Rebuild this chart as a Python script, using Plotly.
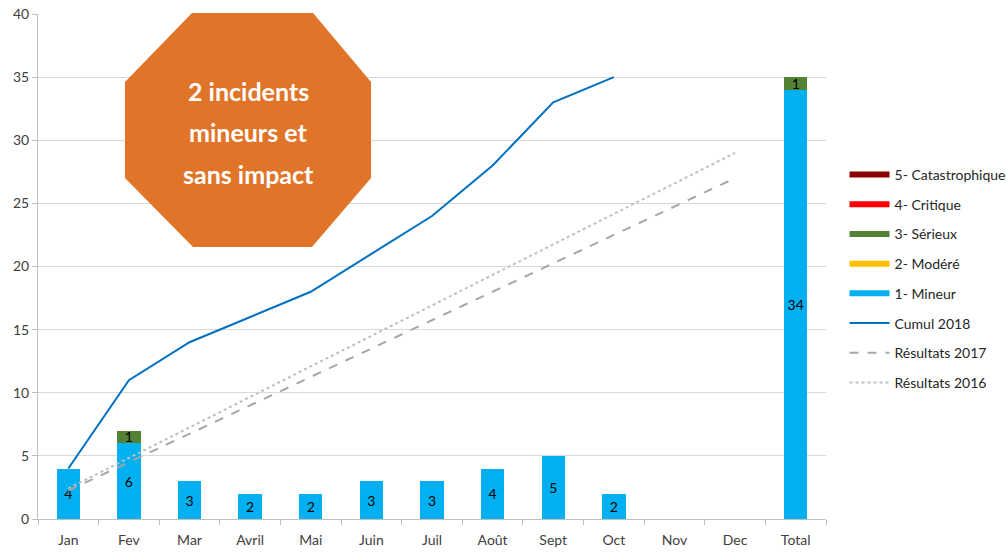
import plotly.graph_objects as go

categories = ["Jan", "Fev", "Mar", "Avril", "Mai", "Juin", "Juil", "Août", "Sept", "Oct", "Nov", "Dec", "Total"]
mineur = [4, 6, 3, 2, 2, 3, 3, 4, 5, 2, 0, 0, 34]
modere = [0] * 13
serieux = [0, 1, 0, 0, 0, 0, 0, 0, 0, 0, 0, 0, 1]
critique = [0] * 13
catastrophique = [0] * 13
months = categories[:12]
cumul_2018 = [4, 11, 14, 16, 18, 21, 24, 28, 33, 35]
res_2017 = [2.25, 4.5, 6.75, 9, 11.25, 13.5, 15.75, 18, 20.25, 22.5, 24.75, 27]
res_2016 = [2.42, 4.83, 7.25, 9.67, 12.08, 14.5, 16.92, 19.33, 21.75, 24.17, 26.58, 29]

FONT = "Lato"
C_CATA = "#8B0000"
C_CRIT = "#FF0000"
C_SER = "#548235"
C_MOD = "#FFC000"
C_MIN = "#00B0F0"
C_CUM = "#0070C0"
C_2017 = "#A6A6A6"
C_2016 = "#BFBFBF"

def lab(vals):
    return [str(v) if v else "" for v in vals]

fig = go.Figure()
bar_common = dict(width=0.385, textposition="inside", insidetextanchor="middle", textangle=0,
                  constraintext="none", textfont=dict(family=FONT, size=14, color="#000000"),
                  showlegend=False, hoverinfo="skip", marker_line_width=0)
fig.add_trace(go.Bar(x=categories, y=mineur, marker_color=C_MIN, text=lab(mineur), name="1- Mineur", **bar_common))
fig.add_trace(go.Bar(x=categories, y=modere, marker_color=C_MOD, text=lab(modere), name="2- Modéré", **bar_common))
fig.add_trace(go.Bar(x=categories, y=serieux, marker_color=C_SER, text=lab(serieux), name="3- Sérieux", **bar_common))
fig.add_trace(go.Bar(x=categories, y=critique, marker_color=C_CRIT, text=lab(critique), name="4- Critique", **bar_common))
fig.add_trace(go.Bar(x=categories, y=catastrophique, marker_color=C_CATA, text=lab(catastrophique), name="5- Catastrophique", **bar_common))

fig.add_trace(go.Scatter(x=months, y=res_2016, mode="lines", line=dict(color=C_2016, width=2, dash="dot"),
                         showlegend=False))
fig.add_trace(go.Scatter(x=months, y=res_2017, mode="lines", line=dict(color=C_2017, width=2, dash="dash"),
                         showlegend=False))
fig.add_trace(go.Scatter(x=months[:len(cumul_2018)], y=cumul_2018, mode="lines", line=dict(color=C_CUM, width=2),
                         showlegend=False))

# legend entries
legend_items = [
    ("5- Catastrophique", C_CATA, 6, "solid"),
    ("4- Critique", C_CRIT, 6, "solid"),
    ("3- Sérieux", C_SER, 6, "solid"),
    ("2- Modéré", C_MOD, 6, "solid"),
    ("1- Mineur", C_MIN, 6, "solid"),
    ("Cumul 2018", C_CUM, 2, "solid"),
    ("Résultats 2017", C_2017, 2, "dash"),
    ("Résultats 2016", C_2016, 2, "dot"),
]
for i, (nm, col, w, d) in enumerate(legend_items):
    fig.add_trace(go.Scatter(x=[None], y=[None], mode="lines", name=nm,
                             line=dict(color=col, width=w, dash=d), legendgroup=f"g{i}",
                             showlegend=True))

L, R, T, B = 38, 826, 14, 519
W, H = 1006, 553

def px(x, y):
    return (x - L) / (R - L), (B - y) / (B - T)

oct_pts = [(192, 13), (313, 13), (371, 82), (371, 178), (312, 247), (193, 247), (125, 178), (125, 82)]
path = "M " + " L ".join(f"{px(x, y)[0]:.4f},{px(x, y)[1]:.4f}" for x, y in oct_pts) + " Z"
fig.add_shape(type="path", path=path, xref="paper", yref="paper",
              fillcolor="#E07428", line=dict(width=0), layer="above")

for txt, yy in [("2 incidents", 91), ("mineurs et", 132), ("sans impact", 174)]:
    xp, yp = px(248, yy)
    fig.add_annotation(x=xp, y=yp, xref="paper", yref="paper", text=f"<b>{txt}</b>",
                       showarrow=False, font=dict(family=FONT, size=25, color="#FFFFFF"),
                       xanchor="center", yanchor="middle")

fig.update_layout(
    width=W, height=H,
    margin=dict(l=L, r=W - R, t=T, b=H - B, autoexpand=False),
    barmode="stack",
    plot_bgcolor="#FFFFFF", paper_bgcolor="#FFFFFF",
    font=dict(family=FONT, size=14, color="#404040"),
    legend=dict(x=1.0235, y=0.713, xanchor="left", yanchor="top", tracegroupgap=8.5,
                itemwidth=40, font=dict(family=FONT, size=14, color="#262626"),
                bgcolor="rgba(0,0,0,0)", traceorder="grouped"),
    showlegend=True,
)
fig.update_xaxes(type="category", categoryorder="array", categoryarray=categories,
                 showline=True, linecolor="#BFBFBF", linewidth=1,
                 ticks="outside", tickson="boundaries", ticklen=5, tickcolor="#BFBFBF",
                 ticklabelstandoff=8,
                 showgrid=False, tickfont=dict(family=FONT, size=14, color="#404040"))
fig.update_yaxes(range=[0, 40], dtick=5, showgrid=True, gridcolor="#D9D9D9", gridwidth=1,
                 showline=True, linecolor="#BFBFBF", linewidth=1,
                 ticks="outside", ticklen=5, tickcolor="#BFBFBF", zeroline=False,
                 tickfont=dict(family=FONT, size=14, color="#404040"))

fig.write_html("out.html", config={"displayModeBar": False},
               post_script="document.body.style.margin='0';document.body.style.overflow='hidden';")
